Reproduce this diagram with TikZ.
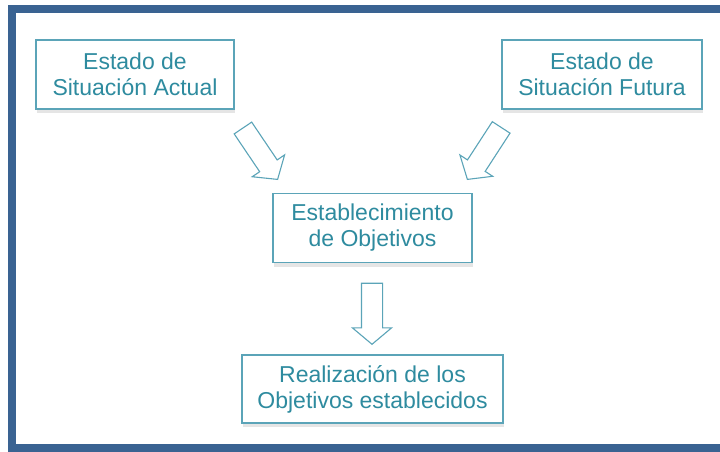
\documentclass[tikz,border=0pt]{standalone}
\usepackage{fontspec}
\setmainfont{Liberation Sans}
\usetikzlibrary{shapes.arrows,shadows}

\definecolor{frameblue}{HTML}{3A6392}
\definecolor{boxline}{HTML}{5BA4B8}
\definecolor{boxtext}{HTML}{2E8B9F}

\begin{document}
\begin{tikzpicture}[%
      x=1pt, y=-1pt,
      every node/.style={font={\fontsize{23}{26}\selectfont}, text=boxtext,
                         align=center, inner sep=0pt},
      stage/.style={draw=boxline, line width=1.3pt, fill=white,
                    minimum height=69pt,
                    general shadow={fill=black!10, shadow yshift=-4pt, shadow xshift=1pt}},
      flow/.style={single arrow, draw=boxline, line width=1.1pt, fill=white,
                   anchor=tip, inner xsep=0pt, inner ysep=10pt,
                   single arrow head extend=9pt, single arrow tip angle=100,
                   minimum height=62pt}
    ]
    \useasboundingbox (0,0) rectangle (720,451);
    \begin{scope}
     \clip (0,0) rectangle (720,451);
     \draw [frameblue, line width=8pt] (730,9) -- (12,9) -- (12,448) -- (730,448);
    \end{scope}
    \node [stage, minimum width=198pt] (S actual) at (135,74.5)
     {Estado de\\Situación Actual};
    \node [stage, minimum width=200pt] (S futura) at (602,74.5)
     {Estado de\\Situación Futura};
    \node [stage, minimum width=199pt] (E obj) at (372.5,228)
     {Establecimiento\\de Objetivos};
    \node [stage, minimum width=261pt, minimum height=68pt] (R obj) at (372.5,389)
     {Realización de los\\Objetivos establecidos};
    \node [flow, rotate=-56] (A actual) at (278,180) {};
    \node [flow, rotate=-123] (A futura) at (467,180) {};
    \node [flow, rotate=-90, minimum height=61pt] (A obj) at (372,345) {};
   \end{tikzpicture}
\end{document}
